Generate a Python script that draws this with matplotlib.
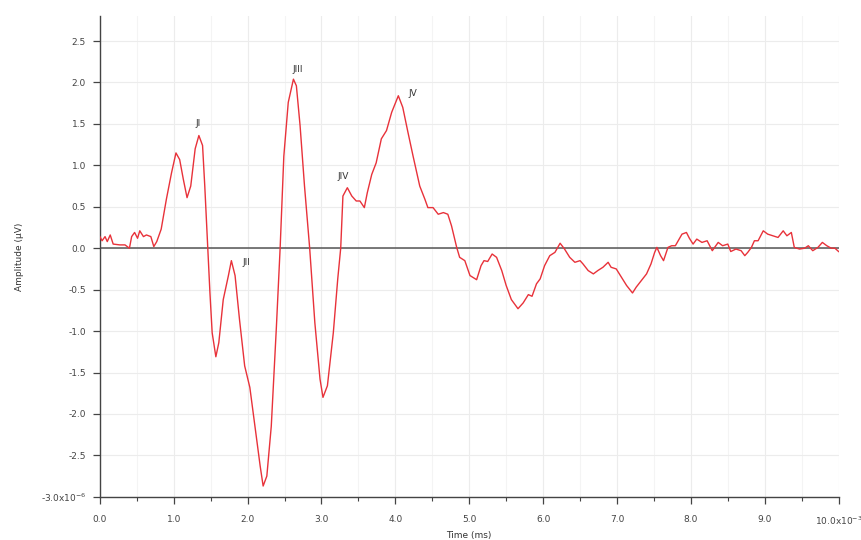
import numpy as np
import matplotlib
matplotlib.use('Agg')
import matplotlib.pyplot as plt
from matplotlib.ticker import MultipleLocator, FixedLocator

# time (ms, x10^-3 on the axis) and amplitude (x10^-6)
time_ms = [0.00, 0.03, 0.07, 0.10, 0.14, 0.18, 0.27, 0.34, 0.40, 0.43, 0.47, 0.51, 0.54, 0.59,
           0.63, 0.69, 0.73, 0.77, 0.83, 0.90, 0.97, 1.03, 1.08, 1.13, 1.18, 1.23, 1.29, 1.34,
           1.39, 1.42, 1.46, 1.49, 1.52, 1.57, 1.61, 1.67, 1.74, 1.78, 1.83, 1.89, 1.96, 2.03,
           2.10, 2.17, 2.21, 2.26, 2.32, 2.39, 2.44, 2.49, 2.55, 2.62, 2.66, 2.71, 2.77, 2.84,
           2.91, 2.98, 3.02, 3.08, 3.16, 3.22, 3.26, 3.29, 3.35, 3.41, 3.47, 3.52, 3.58, 3.62,
           3.68, 3.74, 3.81, 3.88, 3.95, 4.04, 4.10, 4.17, 4.24, 4.33, 4.40, 4.44, 4.51, 4.58,
           4.65, 4.71, 4.76, 4.83, 4.87, 4.94, 5.01, 5.10, 5.16, 5.20, 5.25, 5.31, 5.37, 5.44,
           5.50, 5.57, 5.66, 5.73, 5.80, 5.85, 5.91, 5.96, 6.02, 6.09, 6.16, 6.23, 6.29, 6.36,
           6.43, 6.50, 6.54, 6.61, 6.68, 6.74, 6.81, 6.88, 6.92, 6.99, 7.06, 7.13, 7.21, 7.26,
           7.33, 7.40, 7.46, 7.51, 7.54, 7.59, 7.63, 7.69, 7.74, 7.79, 7.88, 7.94, 7.98, 8.03,
           8.08, 8.15, 8.22, 8.29, 8.37, 8.43, 8.50, 8.54, 8.61, 8.68, 8.73, 8.77, 8.82, 8.86,
           8.91, 8.98, 9.04, 9.11, 9.18, 9.25, 9.30, 9.36, 9.40, 9.47, 9.54, 9.59, 9.65, 9.72,
           9.78, 9.84, 9.90, 9.95, 10.00]
amplitude = [0.14, 0.09, 0.14, 0.08, 0.16, 0.05, 0.04, 0.04, 0.00, 0.14, 0.19, 0.12, 0.21, 0.14,
             0.16, 0.14, 0.02, 0.08, 0.23, 0.59, 0.91, 1.15, 1.07, 0.83, 0.61, 0.75, 1.20, 1.36,
             1.24, 0.75, 0.00, -0.54, -1.02, -1.31, -1.14, -0.62, -0.33, -0.15, -0.33, -0.86, -1.42, -1.68,
             -2.15, -2.63, -2.87, -2.75, -2.15, -0.94, 0.00, 1.11, 1.76, 2.04, 1.96, 1.48, 0.75, 0.00,
             -0.90, -1.58, -1.80, -1.66, -1.02, -0.37, 0.00, 0.63, 0.73, 0.63, 0.57, 0.57, 0.49, 0.67,
             0.89, 1.03, 1.32, 1.42, 1.64, 1.84, 1.70, 1.40, 1.11, 0.75, 0.59, 0.49, 0.49, 0.41,
             0.43, 0.41, 0.27, 0.01, -0.11, -0.15, -0.33, -0.38, -0.21, -0.15, -0.16, -0.07, -0.11, -0.27,
             -0.45, -0.62, -0.73, -0.66, -0.56, -0.58, -0.43, -0.37, -0.21, -0.09, -0.05, 0.06, -0.01, -0.11,
             -0.17, -0.15, -0.19, -0.27, -0.31, -0.27, -0.23, -0.17, -0.23, -0.25, -0.35, -0.45, -0.54, -0.47,
             -0.39, -0.31, -0.19, -0.05, 0.01, -0.09, -0.15, 0.01, 0.03, 0.03, 0.17, 0.19, 0.12, 0.05,
             0.11, 0.07, 0.09, -0.03, 0.07, 0.03, 0.05, -0.04, -0.01, -0.03, -0.09, -0.05, 0.01, 0.09,
             0.09, 0.21, 0.17, 0.15, 0.13, 0.21, 0.15, 0.19, 0.01, -0.01, 0.00, 0.03, -0.03, 0.01,
             0.07, 0.03, 0.00, 0.00, -0.04]

# peak labels
peak_names = ['JI', 'JII', 'JIII', 'JIV', 'JV']
peak_x = [1.33, 1.98, 2.68, 3.29, 4.24]
peak_y = [1.51, -0.17, 2.16, 0.86, 1.87]

y_ticks = [-3.0, -2.5, -2.0, -1.5, -1.0, -0.5, 0.0, 0.5, 1.0, 1.5, 2.0, 2.5]
y_ticklabels = ['-3.0x10$^{-6}$', '-2.5', '-2.0', '-1.5', '-1.0', '-0.5', '0.0',
                '0.5', '1.0', '1.5', '2.0', '2.5']
x_ticks = [0, 1, 2, 3, 4, 5, 6, 7, 8, 9, 10]
x_ticklabels = ['0.0', '1.0', '2.0', '3.0', '4.0', '5.0', '6.0', '7.0', '8.0', '9.0',
                '10.0x10$^{-3}$']

plt.rcParams['font.family'] = ['DejaVu Sans']
fig = plt.figure(figsize=(8.61, 5.40), dpi=100)
ax = fig.add_axes([0.116, 0.080, 0.858, 0.890])

ax.set_xlim(0, 10.0)
ax.set_ylim(-3.0, 2.8)

ax.grid(which='major', color='#ececec', linewidth=0.8)
ax.grid(which='minor', axis='x', color='#f4f4f4', linewidth=0.8)
ax.set_axisbelow(True)

ax.axhline(0, color='#555555', linewidth=1.1, zorder=2)
ax.plot(time_ms, amplitude, color='#e8323a', linewidth=1.0, zorder=3)

for name, px, py in zip(peak_names, peak_x, peak_y):
    ax.text(px, py, name, fontsize=6.5, color='#333333', ha='center', va='center')

ax.yaxis.set_major_locator(FixedLocator(y_ticks))
ax.set_yticklabels(y_ticklabels)
ax.xaxis.set_major_locator(FixedLocator(x_ticks))
ax.set_xticklabels(x_ticklabels)
ax.xaxis.set_minor_locator(MultipleLocator(0.5))

ax.tick_params(axis='both', which='major', labelsize=6.5, colors='#444444',
               length=5, width=0.9, direction='out')
ax.tick_params(axis='x', which='major', pad=8)
ax.tick_params(axis='y', which='major', pad=5)
ax.tick_params(axis='x', which='minor', length=3, width=0.8, color='#444444')

for side in ['top', 'right']:
    ax.spines[side].set_visible(False)
for side in ['left', 'bottom']:
    ax.spines[side].set_color('#444444')
    ax.spines[side].set_linewidth(1.0)

ax.set_xlabel('Time (ms)', fontsize=6.5, color='#333333', labelpad=3)
ax.set_ylabel('Amplitude (µV)', fontsize=6.5, color='#333333', labelpad=12)

fig.savefig('out.png', dpi=100)
